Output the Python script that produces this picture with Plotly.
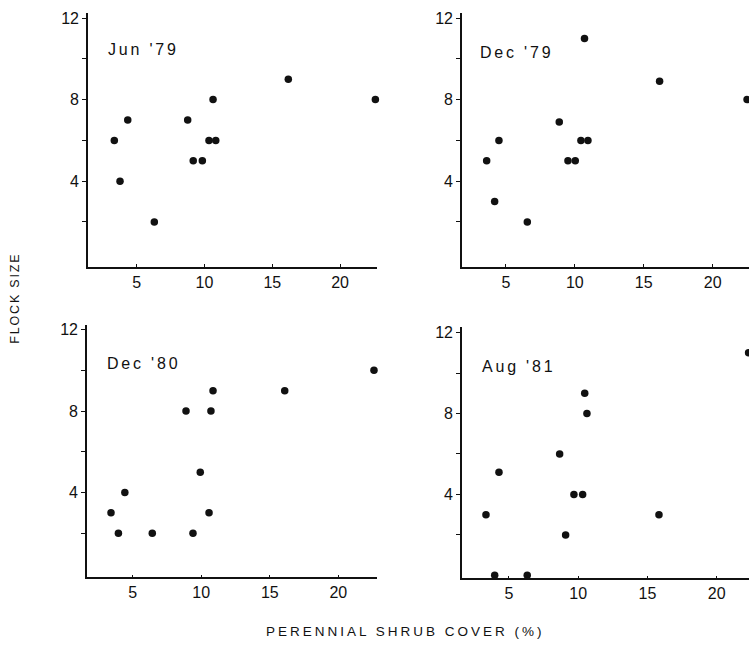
import plotly.graph_objects as go

W, H = 749, 664

panel_titles = ["Jun '79", "Dec '79", "Dec '80", "Aug '81"]

jun79_x = [3.35, 3.77, 4.34, 6.3, 8.76, 9.17, 9.84, 10.33, 10.83, 10.63, 16.18, 22.6]
jun79_y = [6, 4, 7, 2, 7, 5, 5, 6, 6, 8, 9, 8]

dec79_x = [3.6, 4.18, 4.49, 6.55, 8.87, 9.5, 10.03, 10.44, 10.95, 10.7, 16.15, 22.5]
dec79_y = [5, 3, 6, 2, 6.9, 5, 5, 6, 6, 11, 8.9, 8]

dec80_x = [3.42, 3.96, 4.43, 6.43, 8.89, 9.4, 9.93, 10.57, 10.71, 10.86, 16.09, 22.6]
dec80_y = [3, 2, 4, 2, 8, 2, 5, 3, 8, 9, 9, 10]

aug81_x = [3.34, 3.97, 4.28, 6.32, 8.66, 9.09, 9.69, 10.32, 10.47, 10.63, 15.83, 22.3]
aug81_y = [3, 0, 5.1, 0, 6, 2, 4, 4, 9, 8, 3, 11]

x_tickvals = [5, 10, 15, 20]
y_tickvals = [2, 4, 6, 8, 10, 12]
y_ticktext = ["", "4", "", "8", "", "12"]

x_title = "PERENNIAL SHRUB COVER (%)"
y_title = "FLOCK SIZE"

series = [(jun79_x, jun79_y), (dec79_x, dec79_y), (dec80_x, dec80_y), (aug81_x, aug81_y)]

# panel pixel boxes: left, right, top, bottom
boxes = [(88, 377, 10, 265), (462, 749, 10, 265), (87, 377, 323, 577), (462, 749, 325, 578)]
x_ranges = [[1.41, 22.72], [1.81, 22.64], [1.67, 22.82], [1.61, 22.33]]
y_ranges = [[-0.2, 12.25], [-0.2, 12.25], [-0.17, 12.25], [-0.15, 12.3]]
title_pos = [(106, 47), (478, 50), (105, 362), (480, 365)]

FONT = "Liberation Sans, Arial, Helvetica, sans-serif"
INK = "#111111"

fig = go.Figure()
for i, ((xs, ys), (l, r, t, b)) in enumerate(zip(series, boxes)):
    n = "" if i == 0 else str(i + 1)
    fig.add_trace(go.Scatter(
        x=xs, y=ys, mode="markers", xaxis="x" + n, yaxis="y" + n,
        marker=dict(color=INK, size=7.5, line=dict(width=0)),
        cliponaxis=False, showlegend=False, hoverinfo="x+y"))
    fig.update_layout(**{
        "xaxis" + n: dict(
            domain=[l / W, r / W], anchor="y" + n, range=x_ranges[i],
            tickvals=x_tickvals, ticks="inside", ticklen=3, tickwidth=1.2, tickcolor=INK,
            showline=True, linecolor=INK, linewidth=1.6, showgrid=False, zeroline=False,
            tickfont=dict(size=16, color=INK, family=FONT)),
        "yaxis" + n: dict(
            domain=[1 - b / H, 1 - t / H], anchor="x" + n, range=y_ranges[i],
            tickvals=y_tickvals, ticktext=y_ticktext, ticks="outside", ticklen=4,
            tickwidth=1.2, tickcolor=INK,
            showline=True, linecolor=INK, linewidth=1.6, showgrid=False, zeroline=False,
            tickfont=dict(size=16, color=INK, family=FONT)),
    })

annotations = []
for (px, py), txt in zip(title_pos, panel_titles):
    annotations.append(dict(
        x=px / W, y=1 - py / H, xref="paper", yref="paper", xanchor="left", yanchor="middle",
        text='<span style="letter-spacing:2.8px">' + txt + '</span>', showarrow=False,
        font=dict(size=16, color=INK, family=FONT)))
annotations.append(dict(
    x=405 / W, y=1 - 631 / H, xref="paper", yref="paper", xanchor="center", yanchor="middle",
    text='<span style="letter-spacing:3px">' + x_title + '</span>', showarrow=False,
    font=dict(size=13.5, color=INK, family=FONT)))
annotations.append(dict(
    x=15 / W, y=1 - 297 / H, xref="paper", yref="paper", xanchor="center", yanchor="middle",
    text='<span style="letter-spacing:1.8px">' + y_title + '</span>', showarrow=False,
    textangle=-90, font=dict(size=12.5, color=INK, family=FONT)))

fig.update_layout(
    width=W, height=H, margin=dict(l=0, r=0, t=0, b=0),
    paper_bgcolor="white", plot_bgcolor="white",
    annotations=annotations, font=dict(family=FONT, color=INK))

fig.write_html("out.html", config={"displayModeBar": False},
               post_script="document.body.style.margin='0';document.body.style.overflow='hidden';")
